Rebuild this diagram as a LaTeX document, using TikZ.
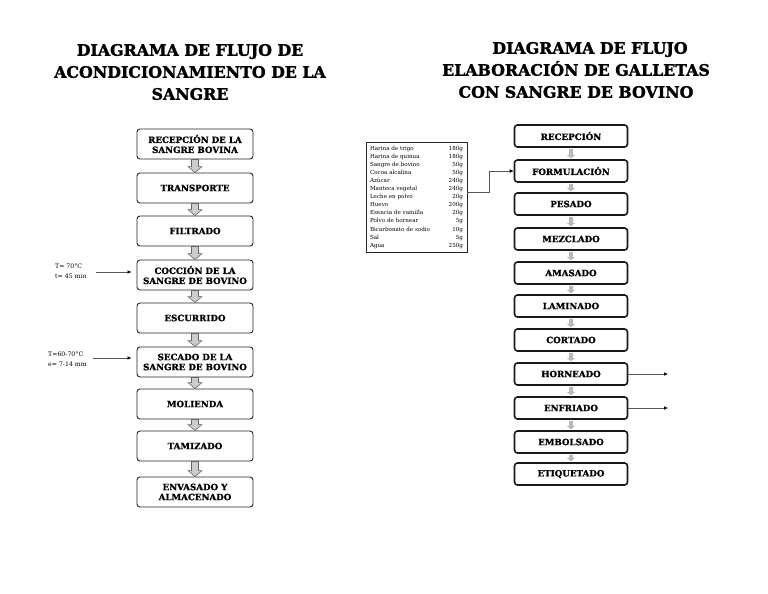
\documentclass[tikz,border=0pt]{standalone}
\usepackage{fontspec}
\setmainfont{DejaVu Serif}
\newfontfamily\heavy{DejaVu Serif Bold}[FakeBold=1.6]
\newfontfamily\heavybox{DejaVu Serif Bold}[FakeBold=1.0]
\usetikzlibrary{calc,arrows.meta}
\begin{document}
\begin{tikzpicture}[x=1pt,y=-1pt,
  title/.style={align=center,font=\heavy\fontsize{15.8}{22}\selectfont},
  lbox/.style={draw=black!85,line width=0.9pt,rounded corners=3pt,minimum width=116pt,minimum height=30pt,inner sep=1pt,align=center,font=\heavybox\fontsize{8.7}{10}\selectfont},
  rbox/.style={draw=black!90,line width=1.6pt,rounded corners=3pt,minimum width=113pt,minimum height=22pt,inner sep=1pt,align=center,font=\heavybox\fontsize{8.7}{10}\selectfont},
  garrow/.style={fill=gray!40,draw=gray!80!black,line width=0.6pt},
  sarrow/.style={fill=gray!55,draw=none},
  note/.style={align=left,anchor=west,font=\fontsize{6.2}{9.5}\selectfont,inner sep=0pt},
  thin/.style={draw=gray!70!black,line width=0.5pt,-{Latex[length=4pt,width=3.5pt,black]}}
]
\useasboundingbox[fill=white] (0,0) rectangle (768,594);

% titles
\node[title] (t1) at (190,72) {DIAGRAMA DE FLUJO DE\\ACONDICIONAMIENTO DE LA\\SANGRE};
\node[title] (t2) at (576,70) {\hspace*{28pt}DIAGRAMA DE FLUJO\\ELABORACIÓN DE GALLETAS\\CON SANGRE DE BOVINO};

% left column
\node[lbox] (l1) at (195,144) {RECEPCIÓN DE LA\\SANGRE BOVINA};
\node[lbox] (l2) at (195,188) {TRANSPORTE};
\node[lbox] (l3) at (195,231) {FILTRADO};
\node[lbox] (l4) at (195,275) {COCCIÓN DE LA\\SANGRE DE BOVINO};
\node[lbox] (l5) at (195,318) {ESCURRIDO};
\node[lbox] (l6) at (195,362) {SECADO DE LA\\SANGRE DE BOVINO};
\node[lbox] (l7) at (195,404) {MOLIENDA};
\node[lbox] (l8) at (195,446) {TAMIZADO};
\node[lbox] (l9) at (195,492) {ENVASADO Y\\ALMACENADO};

\foreach \a/\b in {l1/l2,l2/l3,l3/l4,l4/l5,l5/l6,l6/l7,l7/l8,l8/l9}{
  \draw[garrow] ($(\a.south)+(-3.5,0)$) -- ($(\a.south)+(3.5,0)$) -- ($(\b.north)+(3.5,-6)$)
    -- ($(\b.north)+(7,-6)$) -- (\b.north) -- ($(\b.north)+(-7,-6)$) -- ($(\b.north)+(-3.5,-6)$) -- cycle;
}

% annotations
\node[note] (n1) at (55,271) {T= 70°C\\t= 45 min};
\coordinate (c1) at (96,272);
\draw[thin] (c1) -- ($(c1 -| l4.west)+(-5,0)$);
\node[note] (n2) at (48,359) {T=60-70°C\\e= 7-14 mm};
\coordinate (c2) at (93,358);
\draw[thin] (c2) -- ($(c2 -| l6.west)+(-5,0)$);

% right column
\node[rbox] (r1) at (571,136) {RECEPCIÓN};
\node[rbox] (r2) at (571,171) {FORMULACIÓN};
\node[rbox] (r3) at (571,204) {PESADO};
\node[rbox] (r4) at (571,239) {MEZCLADO};
\node[rbox] (r5) at (571,273) {AMASADO};
\node[rbox] (r6) at (571,306) {LAMINADO};
\node[rbox] (r7) at (571,340) {CORTADO};
\node[rbox] (r8) at (571,374) {HORNEADO};
\node[rbox] (r9) at (571,408) {ENFRIADO};
\node[rbox] (r10) at (571,442) {EMBOLSADO};
\node[rbox] (r11) at (571,474) {ETIQUETADO};

\foreach \a/\b in {r1/r2,r2/r3,r3/r4,r4/r5,r5/r6,r6/r7,r7/r8,r8/r9,r9/r10,r10/r11}{
  \draw[sarrow] ($(\a.south)+(-2,1)$) -- ($(\a.south)+(2,1)$) -- ($(\b.north)+(2,-4)$)
    -- ($(\b.north)+(4,-4)$) -- ($(\b.north)+(0,-1)$) -- ($(\b.north)+(-4,-4)$) -- ($(\b.north)+(-2,-4)$) -- cycle;
}

\coordinate (o8) at (668,374);
\coordinate (o9) at (668,408);
\draw[thin] (r8.east) -- (o8);
\draw[thin] (r9.east) -- (o9);

% ingredients
\node[draw=black!85,line width=0.7pt,inner xsep=4pt,inner ysep=2.5pt,font=\fontsize{5.6}{8.1}\selectfont] (ing) at (416.5,197)
{\begin{tabular*}{93pt}{@{}l@{\extracolsep{\fill}}r@{}}
Harina de trigo & 180g\\
Harina de quinua & 180g\\
Sangre de bovino & 50g\\
Cocoa alcalina & 50g\\
Azúcar & 240g\\
Manteca vegetal & 240g\\
Leche en polvo & 20g\\
Huevo & 200g\\
Esencia de vainilla & 20g\\
Polvo de hornear & 5g\\
Bicarbonato de sodio & 10g\\
Sal & 5g\\
Agua & 250g
\end{tabular*}};
\coordinate (k1) at (489,192);
\draw[thin] (ing.east |- k1) -- (k1) -- (k1 |- r2.west) -- (r2.west);
\end{tikzpicture}
\end{document}
